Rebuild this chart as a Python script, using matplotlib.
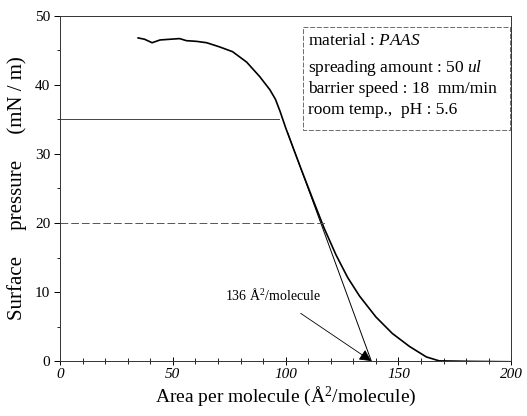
import numpy as np
import matplotlib.pyplot as plt
from matplotlib.ticker import MultipleLocator

plt.rcParams['font.family'] = ['Liberation Serif', 'DejaVu Serif']
plt.rcParams['mathtext.fontset'] = 'custom'
plt.rcParams['mathtext.rm'] = 'Liberation Serif'
plt.rcParams['mathtext.it'] = 'Liberation Serif:italic'

# isotherm
area = [34.6, 37.5, 40.8, 44.3, 48.5, 53.0, 56.0, 60.5, 65.0, 70.7, 76.5, 82.7,
        88.5, 93.0, 95.5, 97.6, 100.0, 103.3, 107.0, 112.2, 117.0, 122.3, 127.5,
        132.8, 140.0, 147.3, 155.0, 162.4, 168.4, 180.0, 190.0, 200.0]
pressure = [46.8, 46.6, 46.1, 46.5, 46.6, 46.7, 46.4, 46.3, 46.1, 45.5, 44.8, 43.3,
            41.2, 39.3, 37.9, 36.1, 33.8, 30.9, 27.7, 23.3, 19.3, 15.4, 12.1,
            9.4, 6.4, 4.0, 2.1, 0.6, 0.0, -0.1, -0.15, -0.2]

# tangent used for the limiting area
tangent_a = [101.0, 138.0]
tangent_p = [33.0, 0.0]

# reference levels
level35_a = [0, 97.0]
level20_a = [0, 117.5]

info = ['material : $\\mathit{PAAS}$',
        'spreading amount : 50 $\\mathit{ul}$',
        'barrier speed : 18  mm/min',
        'room temp.,  pH : 5.6']
info_p = [46.3, 42.4, 39.4, 36.4]

fig = plt.figure(figsize=(5.27, 4.16), dpi=100)
ax = fig.add_axes([0.114, 0.132, 0.856, 0.830])

ax.plot(area, pressure, color='black', lw=1.2)
ax.plot(tangent_a, tangent_p, color='black', lw=0.7)
ax.plot([168.4, 200], [-0.1, -0.2], color='black', lw=2.2)
ax.plot(level35_a, [35, 35], color='#444444', lw=0.7)
ax.plot(level20_a, [20, 20], color='#555555', lw=0.7, ls=(0, (8, 3)))

ax.annotate('136 Å$^2$/molecule', xy=(138, 0), xytext=(94.5, 9.6),
            ha='center', va='center', fontsize=10,
            arrowprops=dict(arrowstyle='-|>', color='black', lw=0.6,
                            mutation_scale=18, shrinkA=10, shrinkB=0))

# info box
ax.plot([107.8, 199.6, 199.6, 107.8, 107.8], [48.4, 48.4, 33.5, 33.5, 48.4],
        color='#555555', lw=0.6, ls=(0, (6, 2)))
for txt, p in zip(info, info_p):
    ax.text(110, p, txt, fontsize=12.5, va='center', ha='left')

ax.set_xlim(0, 200)
ax.set_ylim(0, 50)
ax.xaxis.set_major_locator(MultipleLocator(50))
ax.xaxis.set_minor_locator(MultipleLocator(10))
ax.yaxis.set_major_locator(MultipleLocator(10))
ax.yaxis.set_minor_locator(MultipleLocator(5))
ax.tick_params(axis='x', direction='inout', length=6, width=0.7, pad=2, labelsize=11)
ax.tick_params(axis='x', which='minor', direction='inout', length=4, width=0.6)
ax.tick_params(axis='y', direction='out', length=4, width=0.7, pad=3, labelsize=11)
ax.tick_params(axis='y', which='minor', direction='out', length=2, width=0.6)
for lab in ax.get_xticklabels():
    lab.set_style('italic')
for side in ['top', 'right', 'left', 'bottom']:
    ax.spines[side].set_linewidth(0.7)
    ax.spines[side].set_color('#333333')

ax.set_xlabel('Area per molecule (Å$^2$/molecule)', fontsize=14, labelpad=2)
ax.set_ylabel('Surface     pressure     (mN / m)', fontsize=15, labelpad=6)

fig.savefig('out.png', dpi=100)
